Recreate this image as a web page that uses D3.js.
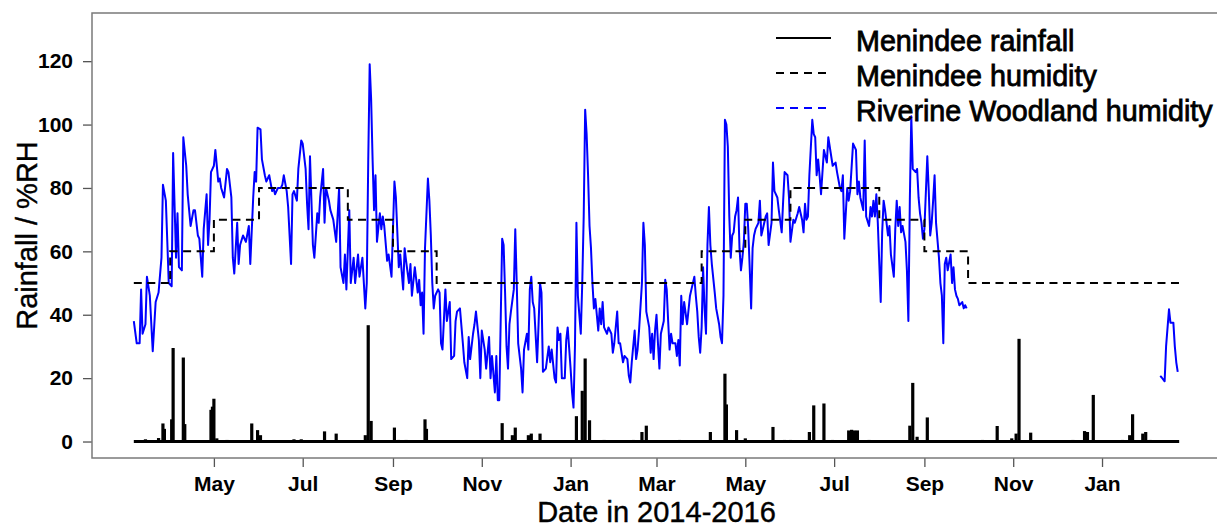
<!DOCTYPE html>
<html lang="en">
<head>
    <meta charset="UTF-8">
    <title>Menindee rainfall and humidity</title>
    <script src="https://d3js.org/d3.v7.min.js"></script>
    <style>
        body { margin: 0; background: white; }
        text { font-family: "Liberation Sans", Arial, sans-serif; fill: black; }
        .tick text { font-size: 21px; font-weight: bold; }
        .tick line { stroke: #555; stroke-width: 1.3; }
        .domain { display: none; }
        .title { font-size: 29px; stroke: black; stroke-width: 0.4; }
    </style>
</head>
<body>
<svg width="1217" height="527"></svg>

<script>
    const parse = d3.utcParse("%Y-%m-%d");

    // daily record runs from here to here
    const seriesStart = "2014-03-07";
    const seriesEnd = "2016-02-23";

    // Menindee daily rainfall (mm), days with rain only
    const rainfall = [
        ["2014-03-15", 0.7], ["2014-03-24", 1.1], ["2014-03-27", 5.7], ["2014-03-28", 4],
        ["2014-04-02", 7], ["2014-04-03", 29.5], ["2014-04-10", 26.5], ["2014-04-11", 5.5],
        ["2014-04-29", 10], ["2014-04-30", 11], ["2014-05-01", 13.5], ["2014-05-03", 1],
        ["2014-05-10", 0.5], ["2014-05-27", 5.7], ["2014-05-31", 3.6], ["2014-06-02", 2],
        ["2014-06-25", 0.7], ["2014-06-30", 0.7], ["2014-07-16", 3.2], ["2014-07-24", 2.5],
        ["2014-08-13", 2], ["2014-08-15", 36.7], ["2014-08-17", 6.5], ["2014-09-02", 4.4],
        ["2014-09-05", 0.5], ["2014-09-10", 0.5], ["2014-09-23", 7], ["2014-09-24", 4],
        ["2014-11-15", 5.8], ["2014-11-22", 2], ["2014-11-24", 4.4], ["2014-12-03", 2],
        ["2014-12-05", 2.5], ["2014-12-11", 2.5], ["2015-01-05", 8], ["2015-01-09", 16],
        ["2015-01-11", 26.2], ["2015-01-14", 6.7], ["2015-01-24", 0.5], ["2015-02-13", 0.5],
        ["2015-02-19", 3], ["2015-02-22", 5], ["2015-03-17", 0.5], ["2015-04-07", 3],
        ["2015-04-17", 21.4], ["2015-04-18", 11.7], ["2015-04-25", 3.6], ["2015-05-01", 1],
        ["2015-05-20", 4.6], ["2015-05-28", 0.5], ["2015-06-01", 0.5], ["2015-06-14", 3],
        ["2015-06-17", 11.4], ["2015-06-24", 12], ["2015-06-30", 0.5], ["2015-07-11", 3.5],
        ["2015-07-13", 3.7], ["2015-07-15", 3.5], ["2015-07-17", 3.5], ["2015-07-25", 0.5],
        ["2015-08-22", 5], ["2015-08-24", 18.5], ["2015-08-27", 1.5], ["2015-09-03", 7.6],
        ["2015-10-11", 0.5], ["2015-10-21", 4.9], ["2015-10-31", 1], ["2015-11-03", 2.5],
        ["2015-11-05", 32.4], ["2015-11-13", 2.8], ["2015-12-12", 0.5], ["2015-12-20", 3.3],
        ["2015-12-22", 3], ["2015-12-26", 14.7], ["2016-01-15", 0.5], ["2016-01-20", 2],
        ["2016-01-22", 8.6], ["2016-01-29", 2.5], ["2016-01-31", 3], ["2016-02-03", 0.5]
    ];

    // Menindee monthly mean humidity (%RH), value holds from each date on
    const menindeeRH = [
        ["2014-03-07", 50], ["2014-04-01", 60], ["2014-05-01", 70], ["2014-06-01", 80],
        ["2014-08-01", 70], ["2014-09-01", 60], ["2014-10-01", 50], ["2015-04-01", 60],
        ["2015-05-01", 70], ["2015-06-01", 80], ["2015-08-01", 70], ["2015-09-01", 60],
        ["2015-10-01", 50], ["2016-02-23", 50]
    ];

    // Riverine Woodland humidity (%RH): [day since seriesStart, value]
    const riverineRH = [
        [0,38],[2,31],[4,31],[5,48],[6,34],[8,37],[9,52],[11,46],[13,28.5],[15,44],[17,47],[19,58],
        [20,81],[22,76],[23,63],[24,50],[26,49],[27,91],[29,58],[30,72],[31,55],[33,54],[34,96],
        [36,87],[37,78],[39,68],[41,73],[42,73],[44,65],[45,64],[47,52],[48,67],[50,78],[51,62],
        [52,70],[53,85],[55,87],[56,92],[58,82],[59,83],[60,80],[62,77],[64,86],[65,85],[67,77],
        [68,58],[69,53],[71,69],[72,56],[73,62],[75,65],[77,63],[79,68],[80,56],[82,77],[83,85],
        [84,82],[85,99],[87,98.5],[88,89],[90,84],[91,82],[93,84],[95,79],[96,80],[97,78],[99,80],
        [101,80],[102,81],[103,84],[105,79],[106,74],[108,56],[109,78],[110,79],[112,76],[113,86],
        [115,95],[116,94],[118,86],[119,75],[120,67],[121,90],[123,62],[124,58],[126,72],[127,69],
        [128,77],[130,86],[131,69],[132,80],[134,76],[135,73],[137,70],[139,63],
        [141,80],[142,55],[144,50],[145,59],[146,48],[148,73],[149,50],[151,58],[152,50],[154,59],
        [155,52],[157,58],[159,42],[160,50],[161,88],[162,119],[163,108],[164,89],[165,73],[166,84],
        [167,63],[169,72],[170,67],[171,71],[172,68],[174,57],[175,59],[177,52],[179,82],[180,77],
        [182,55],[183,59],[185,48],[186,61],[187,57],[189,50],[190,56],[191,46],[193,55],[195,47],
        [196,51],[197,43],[198,47],[199,34],[200,61],[202,83],[203,76],[204,65],[205,50],[206,42],
        [207,46],[209,48],[210,47],[211,31],[212,29],[214,48],[215,38],[217,44],[218,26],[220,27],
        [221,38],[222,41],[224,42],[226,31],[227,25],[229,20],[230,33],[231,26],[233,34],[234,37],
        [235,41],[237,32],[238,20],[239,35],[241,29],[242,23],[244,33],[245,20],[246,27],[248,15.5],
        [249,27],[250,13],[251,13],[253,64],[254,62],[255,47],[256,30],[257,23],[258,37],[259,41],
        [261,48],[262,67],[263,50],[264,31],[266,23],[267,15.5],[268,29],[270,34],[271,29],[272,48],
        [273,52],[274,44],[275,42],[277,25],[278,37],[279,50],[280,47],[281,22],[283,23],[285,30],
        [286,25],[287,29],[289,20],[290,18.6],[291,36],[292,32],[293,34],[294,20],[296,20],[297,32],
        [298,36],[300,23],[301,15.5],[302,10.7],[303,30],[304,69],[305,46],[306,40],[307,34],[308,50],
        [309,71],[310,104.7],[311,97],[312,84],[313,68],[314,61],[315,50],[316,42],[317,45],[318,40],
        [319,35],[320,42],[321,37],[322,44],[323,36],[325,34],[326,36],[328,34],[329,28],[330,31],
        [332,41],[333,31],[334,31],[336,25],[337,27],[339,26],[340,20.7],[341,18.6],[342,25],[344,35],
        [345,26],[346,29],[347,35],[349,50],[350,69],[351,62],[352,41],[354,36],[355,28],[356,34],
        [357,26],[358,35],[359,40],[360,31],[361,23],[362,34],[364,38],[365,51],[366,48],[367,38],
        [368,29],[369,34],[370,31],[372,31],[373,27],[374,32],[375,24],[376,46],[377,37],[378,44],
        [380,37],[382,46],[383,48],[385,52],[386,46],[387,41],[388,33],[389,28],[390,36],[391,55],
        [392,42],[393,34],[394,62],[395,74],[396,62],[397,56],[399,47],[400,42],[402,37],[403,33],
        [404,31],[405,46],[406,101.5],[407,100],[408,93],[409,71],[410,58],[411,65],[412,66],[413,71],
        [414,73],[415,77],[416,61],[417,54],[418,58],[419,63],[420,75],[421,75],[422,67],[423,55],
        [424,42],[425,61],[426,65],[427,67],[429,69],[430,76],
        [431,65],[432,67],[434,71],[435,72],[436,62],[438,69],[439,88],[440,79],[442,77],[443,73],
        [445,66],[446,76],[447,85],[449,84],[450,77],[451,63],[453,70],[454,69],[456,72],[457,74],
        [459,70],[460,66],[461,75],[462,70],[463,71],[464,84],[466,101.5],[467,97],[468,96],[469,84],
        [470,89],[471,84],[472,78],[474,92],[475,90],[476,88],[477,96],[479,90],[480,87],[482,88],
        [483,85],[485,80],[486,79],[487,84],[488,64],[490,80],[491,76],[492,79],[494,94],[496,92],
        [497,78],[498,82],[499,77],[501,73],[502,95],[503,71],[505,68],[506,74],[507,71],[508,76],
        [509,71],[510,78],[511,69],[513,44],[514,66],[515,76],[516,73],[517,69],[518,65],[519,68],
        [520,59],[522,52],[523,67],[524,76],[525,68],[526,74],[527,66],[528,68],[530,63],[531,54],
        [532,38],[533,76],[534,102.6],[535,86],[537,85],[538,86],[539,77],[540,72],[541,69],[542,64],
        [543,67],[545,90],[546,79],[547,65],[548,69],[549,76],[550,84],[551,69],[553,58],[554,50],
        [555,46],[556,31],[557,56],[558,58],[559,54],[561,59],[562,50],[563,55],[564,48],[565,46],
        [566,45],[567,43],[569,44],[570,42],[571,43],[572,42],
        [705,20.7],[706,20.2],[708,19],[709,30],[711,41.7],[712,37.5],[714,37.5],[715,30],[716,25],[717,22]
    ];

    const yTicks = [0, 20, 40, 60, 80, 100, 120];
    const xTicks = ["2014-05-01", "2014-07-01", "2014-09-01", "2014-11-01", "2015-01-01", "2015-03-01",
        "2015-05-01", "2015-07-01", "2015-09-01", "2015-11-01", "2016-01-01"];
    const legendItems = [
        {label: "Menindee rainfall", color: "black", dash: null},
        {label: "Menindee humidity", color: "black", dash: "8,6"},
        {label: "Riverine Woodland humidity", color: "blue", dash: "8,6"}
    ];

    const svg = d3.select("svg");
    const plotL = 92, plotT = 13, plotR = 1221, plotB = 458;

    const t0 = parse(seriesStart), t1 = parse(seriesEnd);
    const pad = (t1 - t0) * 0.04;
    const x = d3.scaleUtc()
            .domain([new Date(+t0 - pad), new Date(+t1 + pad)])
            .range([plotL, plotR]);
    const y = d3.scaleLinear()
            .domain([0 - 130 * 0.04, 130 + 130 * 0.04])
            .range([plotB, plotT]);

    // rainfall: baseline plus daily spikes
    svg.append("line")
            .attr("x1", x(t0)).attr("x2", x(t1))
            .attr("y1", y(0)).attr("y2", y(0))
            .attr("stroke", "black").attr("stroke-width", 3);
    svg.selectAll(".rain")
            .data(rainfall)
            .enter()
            .append("line")
            .attr("class", "rain")
            .attr("x1", d => x(parse(d[0]))).attr("x2", d => x(parse(d[0])))
            .attr("y1", y(0)).attr("y2", d => y(d[1]))
            .attr("stroke", "black").attr("stroke-width", 3.2);

    // riverine humidity, broken where the logger has a gap
    const segments = [];
    let cur = [];
    riverineRH.forEach((d, i) => {
        if (i > 0 && d[0] - riverineRH[i - 1][0] > 10) {
            segments.push(cur);
            cur = [];
        }
        cur.push(d);
    });
    segments.push(cur);

    const rhLine = d3.line()
            .x(d => x(d3.utcDay.offset(t0, d[0])))
            .y(d => y(d[1]));
    svg.selectAll(".riverine")
            .data(segments)
            .enter()
            .append("path")
            .attr("class", "riverine")
            .attr("d", rhLine)
            .attr("fill", "none")
            .attr("stroke", "blue")
            .attr("stroke-width", 2)
            .attr("stroke-linejoin", "round");

    // Menindee monthly humidity as steps
    const stepLine = d3.line()
            .curve(d3.curveStepAfter)
            .x(d => x(parse(d[0])))
            .y(d => y(d[1]));
    svg.append("path")
            .datum(menindeeRH)
            .attr("d", stepLine)
            .attr("fill", "none")
            .attr("stroke", "black")
            .attr("stroke-width", 2)
            .attr("stroke-dasharray", "8,5.5");

    // axes
    svg.append("g")
            .attr("transform", `translate(${plotL},0)`)
            .call(d3.axisLeft(y).tickValues(yTicks).tickSize(9).tickPadding(10));
    svg.append("g")
            .attr("transform", `translate(0,${plotB})`)
            .call(d3.axisBottom(x)
                    .tickValues(xTicks.map(parse))
                    .tickFormat(d3.utcFormat("%b"))
                    .tickSize(9).tickPadding(9));

    svg.append("rect")
            .attr("x", plotL).attr("y", plotT)
            .attr("width", plotR - plotL).attr("height", plotB - plotT)
            .attr("fill", "none")
            .attr("stroke", "#7a7a7a")
            .attr("stroke-width", 1.5);

    // axis titles
    svg.append("text")
            .attr("class", "title")
            .attr("x", (plotL + plotR) / 2)
            .attr("y", 522)
            .attr("text-anchor", "middle")
            .text("Date in 2014-2016");
    svg.append("text")
            .attr("class", "title")
            .attr("transform", `translate(37,${(plotT + plotB) / 2}) rotate(-90)`)
            .attr("text-anchor", "middle")
            .text("Rainfall / %RH");

    // legend
    const legend = svg.append("g").attr("transform", "translate(776,38)");
    const rows = legend.selectAll("g")
            .data(legendItems)
            .enter()
            .append("g")
            .attr("transform", (d, i) => `translate(0,${i * 35})`);
    rows.append("line")
            .attr("x1", 0).attr("x2", 55)
            .attr("stroke", d => d.color)
            .attr("stroke-width", 2)
            .attr("stroke-dasharray", d => d.dash);
    rows.append("text")
            .attr("x", 80)
            .attr("y", 12.5)
            .style("font-size", "28.7px")
            .style("stroke", "black")
            .style("stroke-width", 0.8)
            .text(d => d.label);
</script>

</body>
</html>
